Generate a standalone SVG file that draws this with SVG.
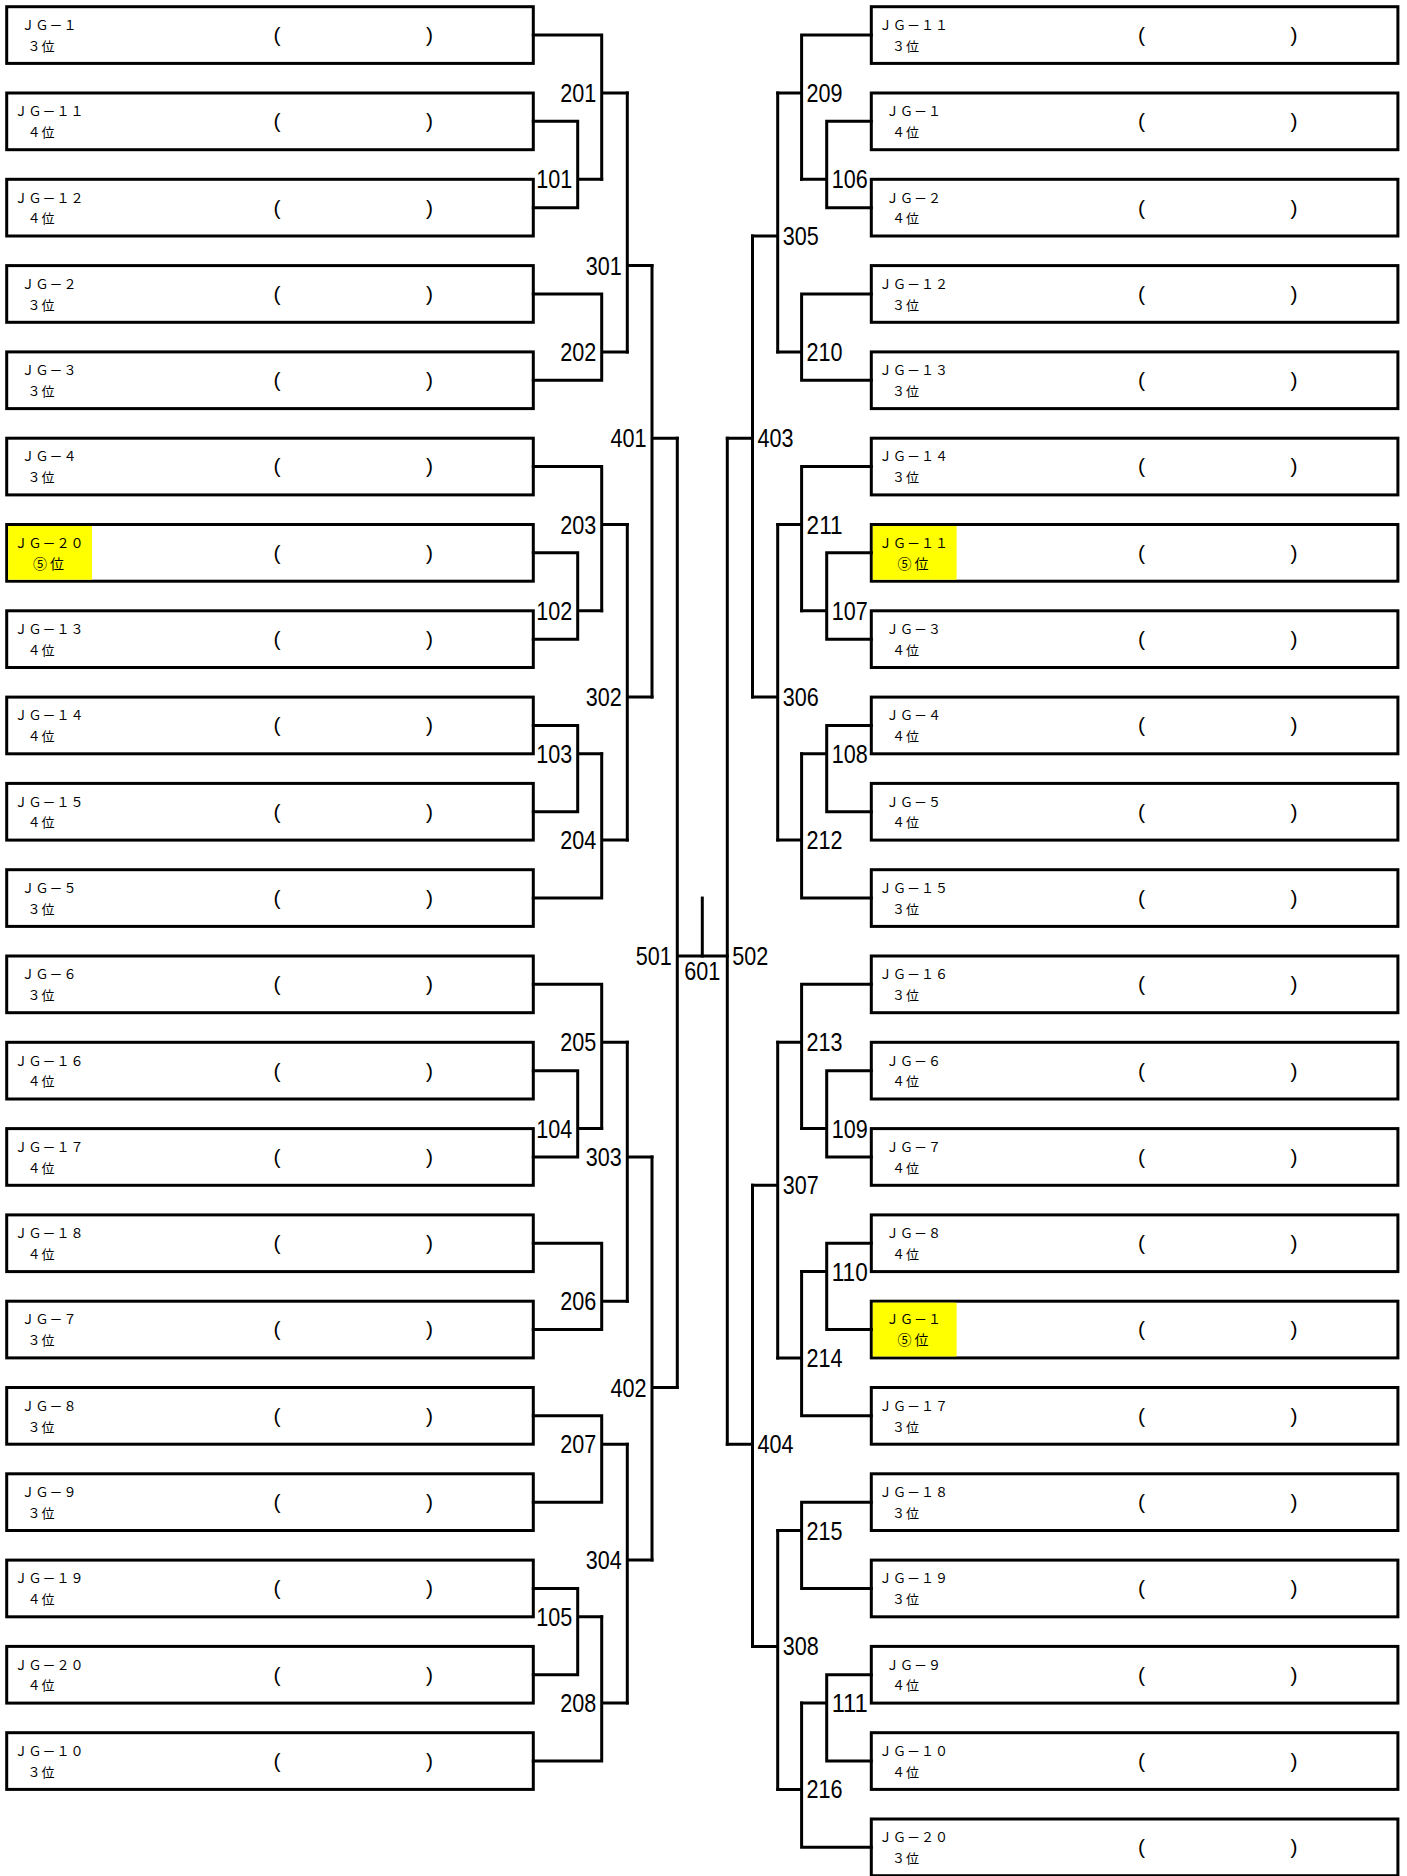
<svg xmlns="http://www.w3.org/2000/svg" width="1407" height="1876" viewBox="0 0 1407 1876">
<style>
.box{fill:#fff;stroke:#000;stroke-width:3}
.hl{fill:#ffff00}
.t1{font-family:"Noto Sans CJK JP","Noto Sans",sans-serif;font-size:13px;letter-spacing:1px;text-anchor:middle;fill:#000}
.t2{font-family:"Noto Sans CJK JP","Noto Sans",sans-serif;font-size:13px;letter-spacing:1px;fill:#000}
.t5{font-family:"Noto Sans CJK JP","Noto Sans",sans-serif;font-size:14px;letter-spacing:3px;fill:#000}
.p{font-family:"Liberation Sans",Arial,sans-serif;font-size:21px;fill:#000}
.ln{fill:none;stroke:#000;stroke-width:3;stroke-linecap:square}
.lb{font-family:"Liberation Sans",Arial,sans-serif;font-size:26px;fill:#000}
.le{text-anchor:end}
.lm{text-anchor:middle}
</style>
<defs>
<g id="frame">
<rect class="box" x="6.7" y="0" width="526.6" height="56.7"/>
<text class="p" x="273.5" y="35.3">(</text>
<text class="p" x="426" y="35.3">)</text>
</g>
<rect id="hilite" class="hl" x="8.2" y="1.5" width="83.8" height="53.7"/>
</defs>
<rect x="0" y="0" width="1407" height="1876" fill="#fff"/>

<g id="left-entries">
<g id="L00" transform="translate(0,6.7)"><use href="#frame"/><text class="t1" x="49.5" y="23.3">ＪＧ－１</text><text class="t2" x="27.5" y="44">３位</text></g>
<g id="L01" transform="translate(0,93)"><use href="#frame"/><text class="t1" x="49.5" y="23.3">ＪＧ－１１</text><text class="t2" x="27.5" y="44">４位</text></g>
<g id="L02" transform="translate(0,179.3)"><use href="#frame"/><text class="t1" x="49.5" y="23.3">ＪＧ－１２</text><text class="t2" x="27.5" y="44">４位</text></g>
<g id="L03" transform="translate(0,265.6)"><use href="#frame"/><text class="t1" x="49.5" y="23.3">ＪＧ－２</text><text class="t2" x="27.5" y="44">３位</text></g>
<g id="L04" transform="translate(0,351.9)"><use href="#frame"/><text class="t1" x="49.5" y="23.3">ＪＧ－３</text><text class="t2" x="27.5" y="44">３位</text></g>
<g id="L05" transform="translate(0,438.2)"><use href="#frame"/><text class="t1" x="49.5" y="23.3">ＪＧ－４</text><text class="t2" x="27.5" y="44">３位</text></g>
<g id="L06" transform="translate(0,524.5)"><use href="#frame"/><use href="#hilite"/><text class="t1" x="49.5" y="23.3">ＪＧ－２０</text><text class="t5" x="33" y="44">⑤位</text></g>
<g id="L07" transform="translate(0,610.8)"><use href="#frame"/><text class="t1" x="49.5" y="23.3">ＪＧ－１３</text><text class="t2" x="27.5" y="44">４位</text></g>
<g id="L08" transform="translate(0,697.1)"><use href="#frame"/><text class="t1" x="49.5" y="23.3">ＪＧ－１４</text><text class="t2" x="27.5" y="44">４位</text></g>
<g id="L09" transform="translate(0,783.4)"><use href="#frame"/><text class="t1" x="49.5" y="23.3">ＪＧ－１５</text><text class="t2" x="27.5" y="44">４位</text></g>
<g id="L10" transform="translate(0,869.7)"><use href="#frame"/><text class="t1" x="49.5" y="23.3">ＪＧ－５</text><text class="t2" x="27.5" y="44">３位</text></g>
<g id="L11" transform="translate(0,956)"><use href="#frame"/><text class="t1" x="49.5" y="23.3">ＪＧ－６</text><text class="t2" x="27.5" y="44">３位</text></g>
<g id="L12" transform="translate(0,1042.3)"><use href="#frame"/><text class="t1" x="49.5" y="23.3">ＪＧ－１６</text><text class="t2" x="27.5" y="44">４位</text></g>
<g id="L13" transform="translate(0,1128.6)"><use href="#frame"/><text class="t1" x="49.5" y="23.3">ＪＧ－１７</text><text class="t2" x="27.5" y="44">４位</text></g>
<g id="L14" transform="translate(0,1214.9)"><use href="#frame"/><text class="t1" x="49.5" y="23.3">ＪＧ－１８</text><text class="t2" x="27.5" y="44">４位</text></g>
<g id="L15" transform="translate(0,1301.2)"><use href="#frame"/><text class="t1" x="49.5" y="23.3">ＪＧ－７</text><text class="t2" x="27.5" y="44">３位</text></g>
<g id="L16" transform="translate(0,1387.5)"><use href="#frame"/><text class="t1" x="49.5" y="23.3">ＪＧ－８</text><text class="t2" x="27.5" y="44">３位</text></g>
<g id="L17" transform="translate(0,1473.8)"><use href="#frame"/><text class="t1" x="49.5" y="23.3">ＪＧ－９</text><text class="t2" x="27.5" y="44">３位</text></g>
<g id="L18" transform="translate(0,1560.1)"><use href="#frame"/><text class="t1" x="49.5" y="23.3">ＪＧ－１９</text><text class="t2" x="27.5" y="44">４位</text></g>
<g id="L19" transform="translate(0,1646.4)"><use href="#frame"/><text class="t1" x="49.5" y="23.3">ＪＧ－２０</text><text class="t2" x="27.5" y="44">４位</text></g>
<g id="L20" transform="translate(0,1732.7)"><use href="#frame"/><text class="t1" x="49.5" y="23.3">ＪＧ－１０</text><text class="t2" x="27.5" y="44">３位</text></g>
</g>

<g id="right-entries">
<g id="R00" transform="translate(864.6,6.7)"><use href="#frame"/><text class="t1" x="49.5" y="23.3">ＪＧ－１１</text><text class="t2" x="27.5" y="44">３位</text></g>
<g id="R01" transform="translate(864.6,93)"><use href="#frame"/><text class="t1" x="49.5" y="23.3">ＪＧ－１</text><text class="t2" x="27.5" y="44">４位</text></g>
<g id="R02" transform="translate(864.6,179.3)"><use href="#frame"/><text class="t1" x="49.5" y="23.3">ＪＧ－２</text><text class="t2" x="27.5" y="44">４位</text></g>
<g id="R03" transform="translate(864.6,265.6)"><use href="#frame"/><text class="t1" x="49.5" y="23.3">ＪＧ－１２</text><text class="t2" x="27.5" y="44">３位</text></g>
<g id="R04" transform="translate(864.6,351.9)"><use href="#frame"/><text class="t1" x="49.5" y="23.3">ＪＧ－１３</text><text class="t2" x="27.5" y="44">３位</text></g>
<g id="R05" transform="translate(864.6,438.2)"><use href="#frame"/><text class="t1" x="49.5" y="23.3">ＪＧ－１４</text><text class="t2" x="27.5" y="44">３位</text></g>
<g id="R06" transform="translate(864.6,524.5)"><use href="#frame"/><use href="#hilite"/><text class="t1" x="49.5" y="23.3">ＪＧ－１１</text><text class="t5" x="33" y="44">⑤位</text></g>
<g id="R07" transform="translate(864.6,610.8)"><use href="#frame"/><text class="t1" x="49.5" y="23.3">ＪＧ－３</text><text class="t2" x="27.5" y="44">４位</text></g>
<g id="R08" transform="translate(864.6,697.1)"><use href="#frame"/><text class="t1" x="49.5" y="23.3">ＪＧ－４</text><text class="t2" x="27.5" y="44">４位</text></g>
<g id="R09" transform="translate(864.6,783.4)"><use href="#frame"/><text class="t1" x="49.5" y="23.3">ＪＧ－５</text><text class="t2" x="27.5" y="44">４位</text></g>
<g id="R10" transform="translate(864.6,869.7)"><use href="#frame"/><text class="t1" x="49.5" y="23.3">ＪＧ－１５</text><text class="t2" x="27.5" y="44">３位</text></g>
<g id="R11" transform="translate(864.6,956)"><use href="#frame"/><text class="t1" x="49.5" y="23.3">ＪＧ－１６</text><text class="t2" x="27.5" y="44">３位</text></g>
<g id="R12" transform="translate(864.6,1042.3)"><use href="#frame"/><text class="t1" x="49.5" y="23.3">ＪＧ－６</text><text class="t2" x="27.5" y="44">４位</text></g>
<g id="R13" transform="translate(864.6,1128.6)"><use href="#frame"/><text class="t1" x="49.5" y="23.3">ＪＧ－７</text><text class="t2" x="27.5" y="44">４位</text></g>
<g id="R14" transform="translate(864.6,1214.9)"><use href="#frame"/><text class="t1" x="49.5" y="23.3">ＪＧ－８</text><text class="t2" x="27.5" y="44">４位</text></g>
<g id="R15" transform="translate(864.6,1301.2)"><use href="#frame"/><use href="#hilite"/><text class="t1" x="49.5" y="23.3">ＪＧ－１</text><text class="t5" x="33" y="44">⑤位</text></g>
<g id="R16" transform="translate(864.6,1387.5)"><use href="#frame"/><text class="t1" x="49.5" y="23.3">ＪＧ－１７</text><text class="t2" x="27.5" y="44">３位</text></g>
<g id="R17" transform="translate(864.6,1473.8)"><use href="#frame"/><text class="t1" x="49.5" y="23.3">ＪＧ－１８</text><text class="t2" x="27.5" y="44">３位</text></g>
<g id="R18" transform="translate(864.6,1560.1)"><use href="#frame"/><text class="t1" x="49.5" y="23.3">ＪＧ－１９</text><text class="t2" x="27.5" y="44">３位</text></g>
<g id="R19" transform="translate(864.6,1646.4)"><use href="#frame"/><text class="t1" x="49.5" y="23.3">ＪＧ－９</text><text class="t2" x="27.5" y="44">４位</text></g>
<g id="R20" transform="translate(864.6,1732.7)"><use href="#frame"/><text class="t1" x="49.5" y="23.3">ＪＧ－１０</text><text class="t2" x="27.5" y="44">４位</text></g>
<g id="R21" transform="translate(864.6,1819)"><use href="#frame"/><text class="t1" x="49.5" y="23.3">ＪＧ－２０</text><text class="t2" x="27.5" y="44">３位</text></g>
</g>

<g id="connectors">
<path class="ln" d="M533.3 121.35H577.7V207.65H533.3M577.7 179.3H601.7"/>
<path class="ln" d="M533.3 35.05H601.7V179.3M601.7 93H627.3"/>
<path class="ln" d="M533.3 293.95H601.7V380.25H533.3M601.7 351.9H627.3"/>
<path class="ln" d="M627.3 93V351.9M627.3 265.6H652"/>
<path class="ln" d="M533.3 552.85H577.7V639.15H533.3M577.7 610.8H601.7"/>
<path class="ln" d="M533.3 466.55H601.7V610.8M601.7 524.5H627.3"/>
<path class="ln" d="M533.3 725.45H577.7V811.75H533.3M577.7 753.8H601.7"/>
<path class="ln" d="M601.7 753.8V898.05H533.3M601.7 840.1H627.3"/>
<path class="ln" d="M627.3 524.5V840.1M627.3 697.1H652"/>
<path class="ln" d="M652 265.6V697.1M652 438.2H677.3"/>
<path class="ln" d="M533.3 1070.65H577.7V1156.95H533.3M577.7 1128.6H601.7"/>
<path class="ln" d="M533.3 984.35H601.7V1128.6M601.7 1042.3H627.3"/>
<path class="ln" d="M533.3 1243.25H601.7V1329.55H533.3M601.7 1301.2H627.3"/>
<path class="ln" d="M627.3 1042.3V1301.2M627.3 1156.95H652"/>
<path class="ln" d="M533.3 1415.85H601.7V1502.15H533.3M601.7 1444.2H627.3"/>
<path class="ln" d="M533.3 1588.45H577.7V1674.75H533.3M577.7 1616.8H601.7"/>
<path class="ln" d="M601.7 1616.8V1761.05H533.3M601.7 1703.1H627.3"/>
<path class="ln" d="M627.3 1444.2V1703.1M627.3 1560.1H652"/>
<path class="ln" d="M652 1156.95V1560.1M652 1387.5H677.3"/>
<path class="ln" d="M677.3 438.2V1387.5M677.3 956H727.3"/>
<path class="ln" d="M702.3 898.05V956"/>
<path class="ln" d="M871.3 121.35H826.7V207.65H871.3M826.7 179.3H801.6"/>
<path class="ln" d="M871.3 35.05H801.6V179.3M801.6 93H777.7"/>
<path class="ln" d="M871.3 293.95H801.6V380.25H871.3M801.6 351.9H777.7"/>
<path class="ln" d="M777.7 93V351.9M777.7 236H752.5"/>
<path class="ln" d="M871.3 552.85H826.7V639.15H871.3M826.7 610.8H801.6"/>
<path class="ln" d="M871.3 466.55H801.6V610.8M801.6 524.5H777.7"/>
<path class="ln" d="M871.3 725.45H826.7V811.75H871.3M826.7 753.8H801.6"/>
<path class="ln" d="M801.6 753.8V898.05H871.3M801.6 840.1H777.7"/>
<path class="ln" d="M777.7 524.5V840.1M777.7 697.1H752.5"/>
<path class="ln" d="M752.5 236V697.1M752.5 438.2H727.3"/>
<path class="ln" d="M871.3 1070.65H826.7V1156.95H871.3M826.7 1128.6H801.6"/>
<path class="ln" d="M871.3 984.35H801.6V1128.6M801.6 1042.3H777.7"/>
<path class="ln" d="M871.3 1243.25H826.7V1329.55H871.3M826.7 1271.6H801.6"/>
<path class="ln" d="M801.6 1271.6V1415.85H871.3M801.6 1357.9H777.7"/>
<path class="ln" d="M777.7 1042.3V1357.9M777.7 1185.3H752.5"/>
<path class="ln" d="M871.3 1502.15H801.6V1588.45H871.3M801.6 1530.5H777.7"/>
<path class="ln" d="M871.3 1674.75H826.7V1761.05H871.3M826.7 1703.1H801.6"/>
<path class="ln" d="M801.6 1703.1V1847.35H871.3M801.6 1789.4H777.7"/>
<path class="ln" d="M777.7 1530.5V1789.4M777.7 1646.4H752.5"/>
<path class="ln" d="M752.5 1185.3V1646.4M752.5 1444.2H727.3"/>
<path class="ln" d="M727.3 438.2V1444.2"/>
<g id="match-labels">
<text class="lb le" x="572.2" y="188.3" textLength="36" lengthAdjust="spacingAndGlyphs">101</text>
<text class="lb le" x="596.2" y="102" textLength="36" lengthAdjust="spacingAndGlyphs">201</text>
<text class="lb le" x="596.2" y="360.9" textLength="36" lengthAdjust="spacingAndGlyphs">202</text>
<text class="lb le" x="621.8" y="274.6" textLength="36" lengthAdjust="spacingAndGlyphs">301</text>
<text class="lb le" x="572.2" y="619.8" textLength="36" lengthAdjust="spacingAndGlyphs">102</text>
<text class="lb le" x="596.2" y="533.5" textLength="36" lengthAdjust="spacingAndGlyphs">203</text>
<text class="lb le" x="572.2" y="762.8" textLength="36" lengthAdjust="spacingAndGlyphs">103</text>
<text class="lb le" x="596.2" y="849.1" textLength="36" lengthAdjust="spacingAndGlyphs">204</text>
<text class="lb le" x="621.8" y="706.1" textLength="36" lengthAdjust="spacingAndGlyphs">302</text>
<text class="lb le" x="646.5" y="447.2" textLength="36" lengthAdjust="spacingAndGlyphs">401</text>
<text class="lb le" x="572.2" y="1137.6" textLength="36" lengthAdjust="spacingAndGlyphs">104</text>
<text class="lb le" x="596.2" y="1051.3" textLength="36" lengthAdjust="spacingAndGlyphs">205</text>
<text class="lb le" x="596.2" y="1310.2" textLength="36" lengthAdjust="spacingAndGlyphs">206</text>
<text class="lb le" x="621.8" y="1166" textLength="36" lengthAdjust="spacingAndGlyphs">303</text>
<text class="lb le" x="596.2" y="1453.2" textLength="36" lengthAdjust="spacingAndGlyphs">207</text>
<text class="lb le" x="572.2" y="1625.8" textLength="36" lengthAdjust="spacingAndGlyphs">105</text>
<text class="lb le" x="596.2" y="1712.1" textLength="36" lengthAdjust="spacingAndGlyphs">208</text>
<text class="lb le" x="621.8" y="1569.1" textLength="36" lengthAdjust="spacingAndGlyphs">304</text>
<text class="lb le" x="646.5" y="1396.5" textLength="36" lengthAdjust="spacingAndGlyphs">402</text>
<text class="lb le" x="671.8" y="965" textLength="36" lengthAdjust="spacingAndGlyphs">501</text>
<text class="lb lm" x="702.3" y="980" textLength="36" lengthAdjust="spacingAndGlyphs">601</text>
<text class="lb" x="732.3" y="965" textLength="36" lengthAdjust="spacingAndGlyphs">502</text>
<text class="lb" x="757.5" y="447.2" textLength="36" lengthAdjust="spacingAndGlyphs">403</text>
<text class="lb" x="757.5" y="1453.2" textLength="36" lengthAdjust="spacingAndGlyphs">404</text>
<text class="lb" x="782.7" y="245" textLength="36" lengthAdjust="spacingAndGlyphs">305</text>
<text class="lb" x="782.7" y="706.1" textLength="36" lengthAdjust="spacingAndGlyphs">306</text>
<text class="lb" x="782.7" y="1194.3" textLength="36" lengthAdjust="spacingAndGlyphs">307</text>
<text class="lb" x="782.7" y="1655.4" textLength="36" lengthAdjust="spacingAndGlyphs">308</text>
<text class="lb" x="806.6" y="102" textLength="36" lengthAdjust="spacingAndGlyphs">209</text>
<text class="lb" x="806.6" y="360.9" textLength="36" lengthAdjust="spacingAndGlyphs">210</text>
<text class="lb" x="806.6" y="533.5" textLength="36" lengthAdjust="spacingAndGlyphs">211</text>
<text class="lb" x="806.6" y="849.1" textLength="36" lengthAdjust="spacingAndGlyphs">212</text>
<text class="lb" x="806.6" y="1051.3" textLength="36" lengthAdjust="spacingAndGlyphs">213</text>
<text class="lb" x="806.6" y="1366.9" textLength="36" lengthAdjust="spacingAndGlyphs">214</text>
<text class="lb" x="806.6" y="1539.5" textLength="36" lengthAdjust="spacingAndGlyphs">215</text>
<text class="lb" x="806.6" y="1798.4" textLength="36" lengthAdjust="spacingAndGlyphs">216</text>
<text class="lb" x="831.7" y="188.3" textLength="36" lengthAdjust="spacingAndGlyphs">106</text>
<text class="lb" x="831.7" y="619.8" textLength="36" lengthAdjust="spacingAndGlyphs">107</text>
<text class="lb" x="831.7" y="762.8" textLength="36" lengthAdjust="spacingAndGlyphs">108</text>
<text class="lb" x="831.7" y="1137.6" textLength="36" lengthAdjust="spacingAndGlyphs">109</text>
<text class="lb" x="831.7" y="1280.6" textLength="36" lengthAdjust="spacingAndGlyphs">110</text>
<text class="lb" x="831.7" y="1712.1" textLength="36" lengthAdjust="spacingAndGlyphs">111</text>
</g>
</g>
</svg>
